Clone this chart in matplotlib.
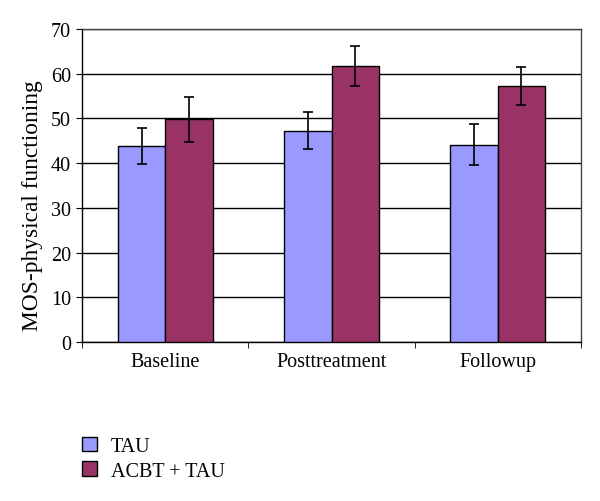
import matplotlib.pyplot as plt
import numpy as np

plt.rcParams['font.family'] = ['Liberation Serif', 'DejaVu Serif']

categories = ["Baseline", "Posttreatment", "Followup"]
tau = [43.8, 47.3, 44.1]
tau_err = [4.1, 4.1, 4.6]
acbt = [49.8, 61.8, 57.3]
acbt_err = [5.0, 4.5, 4.2]

fig = plt.figure(figsize=(6.0, 5.02), dpi=100)
ax = fig.add_axes([0.137, 0.317, 0.831, 0.623])

x = np.arange(len(categories))
w = 0.286
err_kw = dict(ecolor="black", elinewidth=1.2, capsize=3.5, capthick=1.2)
ax.bar(x - w / 2, tau, w, yerr=tau_err, color="#9999FF", edgecolor="black",
       linewidth=1, label="TAU", error_kw=err_kw, zorder=3)
ax.bar(x + w / 2, acbt, w, yerr=acbt_err, color="#993366", edgecolor="black",
       linewidth=1, label="ACBT + TAU", error_kw=err_kw, zorder=3)

ax.set_xlim(-0.5, len(categories) - 0.5)
ax.set_ylim(0, 70)
ax.set_yticks(range(0, 71, 10))
ax.set_xticks(x)
ax.set_xticklabels(categories)
ax.set_xticks(np.arange(-0.5, len(categories), 1), minor=True)
ax.tick_params(axis="x", which="major", length=0, pad=7, labelsize=14.5)
ax.tick_params(axis="x", which="minor", length=4, direction="out")
ax.tick_params(axis="y", length=4, direction="out", labelsize=14.5, pad=4)
ax.yaxis.grid(True, color="black", linewidth=1, zorder=0)
ax.set_axisbelow(True)
for s in ax.spines.values():
    s.set_linewidth(1)
ax.spines["top"].set_color("#444444")
ax.spines["right"].set_color("#444444")
ax.set_ylabel("MOS-physical functioning", fontsize=16.8)
ax.yaxis.set_label_coords(-0.078, 0.44)

ax.legend(loc="upper left", bbox_to_anchor=(0.136, 0.128), bbox_transform=fig.transFigure,
          frameon=False, fontsize=14.5, handlelength=0.75, handleheight=0.75,
          handletextpad=0.7, labelspacing=0.25, borderaxespad=0, borderpad=0)

fig.savefig("out.png", dpi=100)
